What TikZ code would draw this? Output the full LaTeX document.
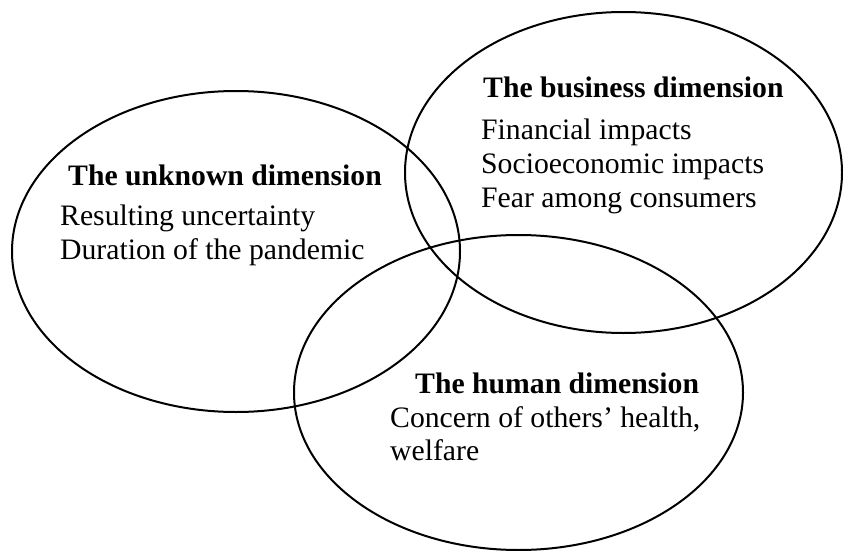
\documentclass[tikz,border=0pt]{standalone}
\usepackage{fontspec}
\setmainfont{Liberation Serif}
\usetikzlibrary{shapes.geometric}
\begin{document}
\begin{tikzpicture}[x=1pt,y=-1pt,
  dimring/.style={draw=black, line width=2pt, ellipse, inner sep=0pt},
  dimtitle/.style={anchor=base west, inner sep=0pt, font=\fontsize{29.7}{34}\selectfont\bfseries},
  dimitem/.style={anchor=base west, inner sep=0pt, font=\fontsize{29.7}{34}\selectfont}]
\useasboundingbox (0,0) rectangle (843,551);

% the three overlapping dimensions
\node[dimring, minimum width=448pt, minimum height=321pt] (unknown) at (236,251.5) {};
\node[dimring, minimum width=437pt, minimum height=321pt] (business) at (623.5,172.5) {};
\node[dimring, minimum width=449pt, minimum height=315pt] (human) at (518.5,392.5) {};

% unknown dimension
\node[dimtitle] (unknownT) at (68,185) {The unknown dimension};
\node[dimitem] (unknownA) at (60,225) {Resulting uncertainty};
\node[dimitem] (unknownB) at (60,259) {Duration of the pandemic};

% business dimension
\node[dimtitle] (businessT) at (483,97) {The business dimension};
\node[dimitem] (businessA) at (481,139) {Financial impacts};
\node[dimitem] (businessB) at (481,173) {Socioeconomic impacts};
\node[dimitem] (businessC) at (481,207) {Fear among consumers};

% human dimension
\node[dimtitle] (humanT) at (415,393) {The human dimension};
\node[dimitem] (humanA) at (390,427) {Concern of others’ health,};
\node[dimitem] (humanB) at (390,460) {welfare};
\end{tikzpicture}
\end{document}
